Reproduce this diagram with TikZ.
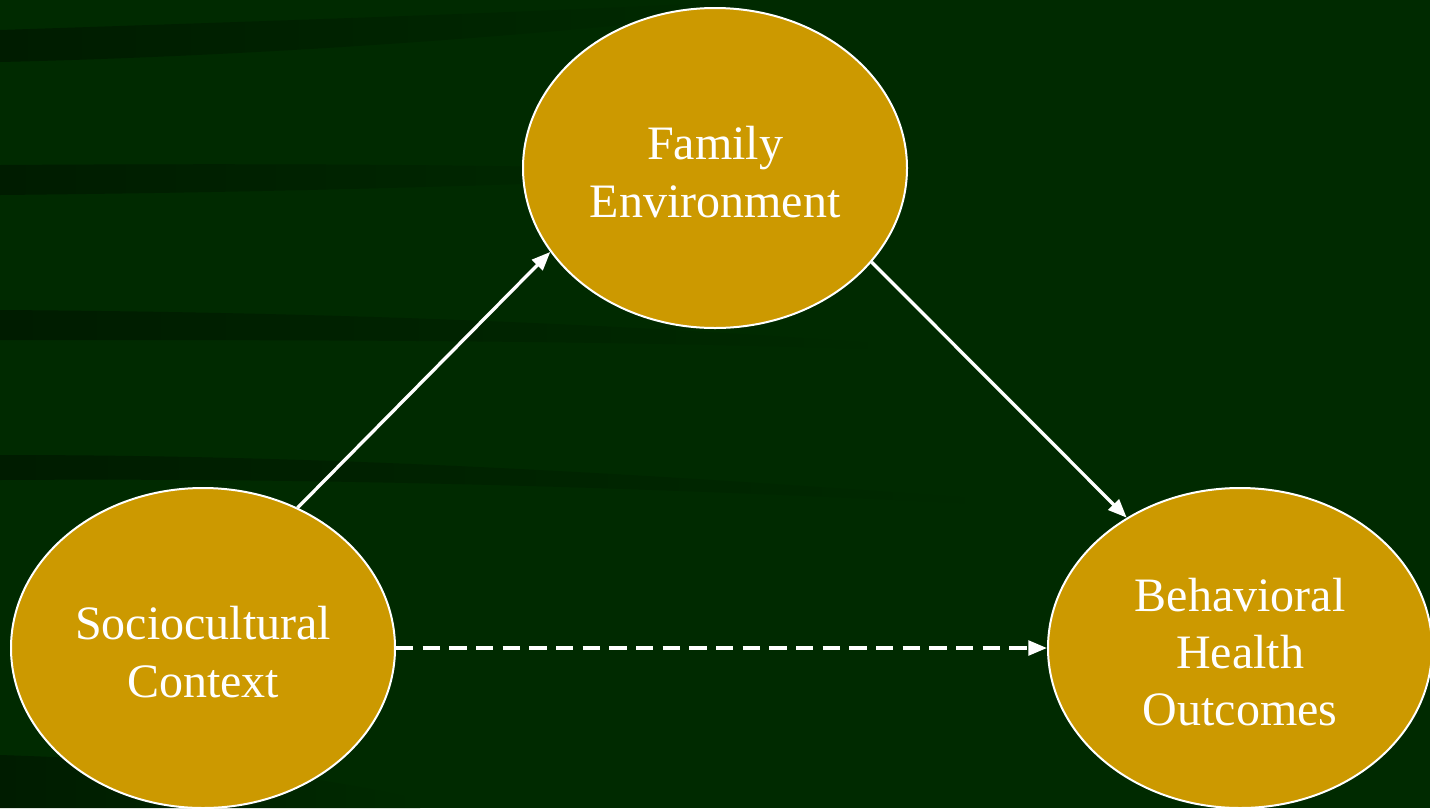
\documentclass[tikz,border=0pt]{standalone}
\usepackage{fontspec}
\setmainfont{Liberation Serif}
\usetikzlibrary{shapes.geometric,arrows.meta}
\definecolor{bg}{RGB}{0,42,0}
\definecolor{bgdark}{RGB}{0,28,0}
\definecolor{gold}{RGB}{204,153,0}
\tikzset{
  bubble/.style={ellipse,fill=gold,draw=white,line width=1.5pt,inner sep=0pt,
    minimum width=288pt,minimum height=240pt,text=white,align=center,
    font=\fontsize{36pt}{43pt}\selectfont},
  btext/.style={text=white,align=center,font=\fontsize{36pt}{43pt}\selectfont},
  link/.style={draw=white,line width=2.5pt,-{Triangle[length=14pt,width=11pt]}},
  dashlink/.style={link,dash pattern=on 13pt off 7pt}
}
\begin{document}
\begin{tikzpicture}[x=0.75pt,y=-0.75pt]
\useasboundingbox (0,0) rectangle (1430,808);
\fill[bg] (0,0) rectangle (1430,808);
% subtle dark streaks
\shade[left color=bgdark,right color=bg] (0,30) .. controls (300,20) and (600,10) .. (760,0) -- (760,10) .. controls (600,30) and (300,55) .. (0,62) -- cycle;
\shade[left color=bgdark,right color=bg] (0,165) .. controls (300,163) and (500,165) .. (700,170) -- (700,178) .. controls (500,185) and (300,192) .. (0,195) -- cycle;
\shade[left color=bgdark,right color=bg] (0,310) .. controls (300,312) and (600,322) .. (900,345) -- (900,350) .. controls (600,340) and (300,340) .. (0,340) -- cycle;
\shade[left color=bgdark,right color=bg] (0,455) .. controls (300,455) and (600,470) .. (1000,500) -- (1000,505) .. controls (600,485) and (300,478) .. (0,480) -- cycle;
\shade[left color=bgdark,right color=bg] (0,755) .. controls (150,760) and (300,770) .. (420,800) -- (420,808) -- (0,808) -- cycle;
\node[bubble] (fam) at (715,168) {};
\node[bubble] (soc) at (203,648) {};
\node[bubble] (beh) at (1240,648) {};
\node[btext] (famt) at ([yshift=-3pt]fam.center) {Family\\Environment};
\node[btext] (soct) at ([yshift=-3pt]soc.center) {Sociocultural\\Context};
\node[btext] (beht) at ([yshift=-3pt]beh.center) {Behavioral\\Health\\Outcomes};
\draw[link] (soc.56) -- (fam.207);
\draw[link] (fam.-31) -- (beh.131);
\draw[dashlink] (soc.east) -- (beh.west);
\end{tikzpicture}
\end{document}
